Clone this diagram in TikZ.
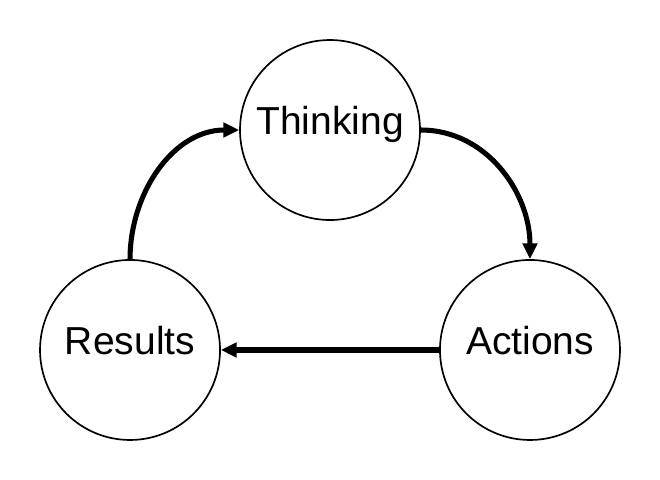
\documentclass[tikz,border=0pt]{standalone}
\usepackage{fontspec}
\setmainfont{Liberation Sans}
\usetikzlibrary{arrows.meta}
\begin{document}
\begin{tikzpicture}[
    stage/.style={draw, circle, line width=0.8pt, minimum size=3cm, inner sep=0pt,
      text height=0.72em, text depth=0.3em,
      font=\fontsize{18.5}{22}\selectfont},
    flow/.style={line width=2.4pt, -{Triangle[length=7.5pt, width=6.8pt]}}
  ]
  \useasboundingbox (0,0) rectangle (11,8);
  \draw
    (5.5,5.833) node[stage] (think){Thinking}
    (8.833,2.167) node[stage] (act){Actions}
    (2.167,2.167) node[stage] (res){Results};
  \begin{scope}[flow]
    \draw (think.east) to[out=0, in=90] (act.north);
    \draw (act.west) to (res.east);
    \draw (res.north) to[out=90, in=180] (think.west);
  \end{scope}
\end{tikzpicture}
\end{document}
